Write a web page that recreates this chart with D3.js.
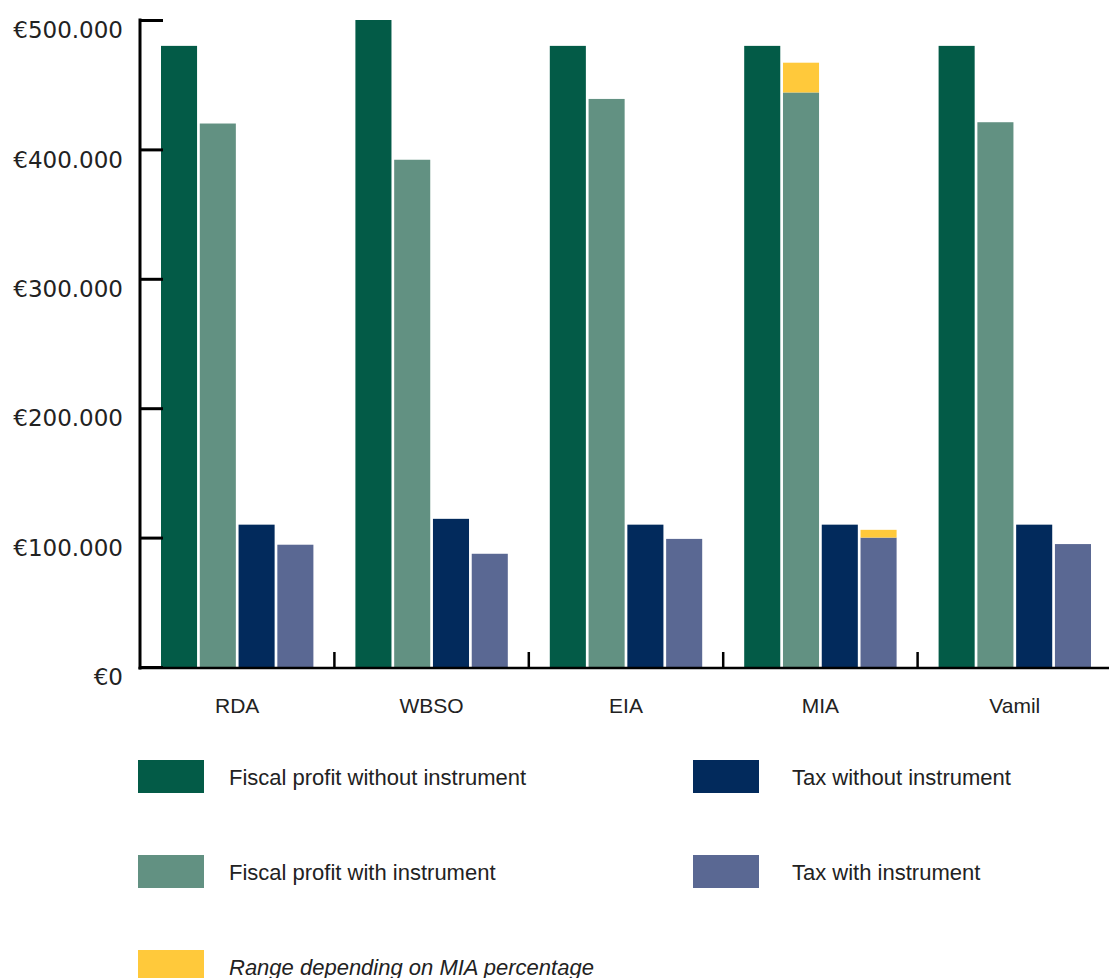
<!DOCTYPE html>
<html>
<head>
<meta charset="utf-8">
<script src="https://cdn.jsdelivr.net/npm/d3@7"></script>
<style>
  html, body { margin: 0; padding: 0; background: #fff; }
  svg { display: block; }
</style>
</head>
<body>
<script>
// data
const instruments = ["RDA", "WBSO", "EIA", "MIA", "Vamil"];
const profitWithout = [480000, 500000, 480000, 480000, 480000];
const profitWith = [420000, 392000, 439000, 444000, 421000];
const taxWithout = [110000, 114500, 110000, 110000, 110000];
const taxWith = [94500, 87500, 99000, 100000, 95000];
// upper end of the MIA range (only MIA has one)
const profitWithRangeTop = [null, null, null, 467000, null];
const taxWithRangeTop = [null, null, null, 106000, null];
const yTicks = [0, 100000, 200000, 300000, 400000, 500000];

const seriesNames = ["Fiscal profit without instrument", "Fiscal profit with instrument",
                     "Tax without instrument", "Tax with instrument"];
const seriesColors = ["#035b47", "#629182", "#022a5c", "#5a6893"];
const rangeColor = "#ffc93b";
const rangeLabel = "Range depending on MIA percentage";

const W = 1109, H = 978;

const svg = d3.select("body").append("svg")
    .attr("width", W)
    .attr("height", H);

const x0 = d3.scaleBand().domain(instruments).range([140, 1112]);
const x1 = d3.scaleBand().domain(d3.range(4))
    .range([21, x0.bandwidth() - 21])
    .paddingInner(0.07);
const y = d3.scaleLinear().domain([0, 500000]).range([667, 20]);

const rows = instruments.map((name, i) => ({
    name,
    values: [profitWithout[i], profitWith[i], taxWithout[i], taxWith[i]],
    ranges: [null, profitWithRangeTop[i], null, taxWithRangeTop[i]]
}));

// bars
const groups = svg.append("g").selectAll("g")
    .data(rows)
    .join("g")
    .attr("transform", d => `translate(${x0(d.name)},0)`);

groups.selectAll("rect.bar")
    .data(d => d.values.map((v, k) => ({ k, v })))
    .join("rect")
    .attr("class", "bar")
    .attr("x", d => x1(d.k))
    .attr("width", x1.bandwidth())
    .attr("y", d => y(d.v))
    .attr("height", d => y(0) - y(d.v))
    .attr("fill", d => seriesColors[d.k]);

groups.selectAll("rect.range")
    .data(d => d.ranges.map((r, k) => ({ k, r, v: d.values[k] })).filter(d => d.r != null))
    .join("rect")
    .attr("class", "range")
    .attr("x", d => x1(d.k))
    .attr("width", x1.bandwidth())
    .attr("y", d => y(d.r))
    .attr("height", d => y(d.v) - y(d.r))
    .attr("fill", rangeColor);

// y axis
const yAxis = d3.axisLeft(y)
    .tickValues(yTicks)
    .tickSize(-23)
    .tickSizeOuter(0)
    .tickPadding(17)
    .tickFormat(d => "€" + (d === 0 ? "0" : d3.format(",")(d).replace(/,/g, ".")));

const gy = svg.append("g")
    .attr("transform", "translate(140,0)")
    .call(yAxis);
gy.select(".domain").remove();
gy.selectAll(".tick line").attr("stroke", "#000").attr("stroke-width", 3);
gy.selectAll(".tick text")
    .attr("dy", "0.77em")
    .attr("fill", "#222")
    .style("font-family", "'DejaVu Sans', sans-serif")
    .style("font-size", "23px");
gy.append("line")
    .attr("x1", 0).attr("x2", 0)
    .attr("y1", y(500000) - 1.5).attr("y2", y(0) + 2.5)
    .attr("stroke", "#000").attr("stroke-width", 3);

// x axis
const xAxis = d3.axisBottom(x0).tickSize(0).tickPadding(30);
const gx = svg.append("g")
    .attr("transform", "translate(0,668)")
    .call(xAxis);
gx.select(".domain").remove();
gx.selectAll(".tick text")
    .attr("fill", "#222")
    .style("font-family", "'Liberation Sans', Arial, sans-serif")
    .style("font-size", "21px");
gx.append("line")
    .attr("x1", 138.5).attr("x2", W)
    .attr("y1", 0).attr("y2", 0)
    .attr("stroke", "#000").attr("stroke-width", 2.5);
gx.selectAll("line.sep")
    .data(instruments.slice(1))
    .join("line")
    .attr("class", "sep")
    .attr("x1", d => x0(d)).attr("x2", d => x0(d))
    .attr("y1", -16).attr("y2", 0)
    .attr("stroke", "#000").attr("stroke-width", 2.5);

// legend
const legendItems = [
    { label: seriesNames[0], color: seriesColors[0], col: 0, row: 0 },
    { label: seriesNames[1], color: seriesColors[1], col: 0, row: 1 },
    { label: seriesNames[2], color: seriesColors[2], col: 1, row: 0 },
    { label: seriesNames[3], color: seriesColors[3], col: 1, row: 1 },
    { label: rangeLabel, color: rangeColor, col: 0, row: 2, italic: true }
];
const colX = [138, 693], colTextX = [229, 792];

const legend = svg.append("g").selectAll("g")
    .data(legendItems)
    .join("g")
    .attr("transform", d => `translate(0,${760 + d.row * 95})`);

legend.append("rect")
    .attr("x", d => colX[d.col])
    .attr("width", 66)
    .attr("height", 33)
    .attr("fill", d => d.color);

legend.append("text")
    .attr("x", d => colTextX[d.col])
    .attr("y", 24.5)
    .attr("fill", "#222")
    .style("font-family", "'Liberation Sans', Arial, sans-serif")
    .style("font-size", "22px")
    .style("font-style", d => d.italic ? "italic" : "normal")
    .text(d => d.label);
</script>
</body>
</html>
